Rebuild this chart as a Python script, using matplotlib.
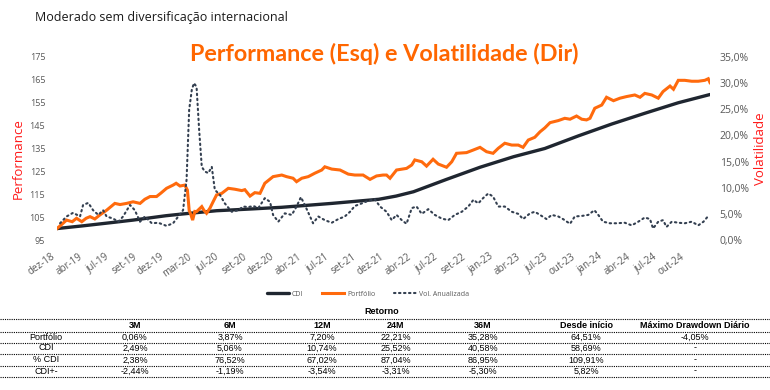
import matplotlib
matplotlib.use("Agg")
import matplotlib.pyplot as plt
from matplotlib.lines import Line2D

# ---- dados (eixo x em dias úteis desde dez-18) ----
dias_port = [0, 12, 22, 35, 45, 57, 67, 76, 87, 99, 114, 133, 145, 160, 175, 191, 202, 214, 229, 239,
             252, 267, 274, 283, 294, 300, 304, 308, 312, 317, 321, 333, 338, 344, 352, 359, 367, 379, 394, 409,
             425, 432, 444, 455, 467, 478, 497, 517, 528, 543, 551, 563, 578, 593, 609, 616, 632, 651, 670, 685,
             704, 720, 735, 750, 758, 766, 781, 804, 816, 823, 839, 850, 865, 877, 896, 908, 919, 942, 957, 973,
             988, 1003, 1015, 1030, 1046, 1061, 1072, 1084, 1099, 1111, 1122, 1134, 1153, 1168, 1180, 1195, 1207, 1218, 1226, 1237,
             1253, 1264, 1280, 1295, 1310, 1329, 1341, 1352, 1368, 1383, 1394, 1410, 1418, 1429, 1444, 1460, 1475, 1490, 1498, 1502]
portfolio = [100.0, 102.0, 103.7, 103.0, 104.5, 103.0, 104.5, 105.2, 104.2, 106.0, 108.0, 111.0, 110.5, 111.0, 111.7, 111.0, 112.8, 114.0, 114.0, 115.5,
             117.6, 119.0, 119.8, 118.6, 119.0, 116.8, 108.0, 106.0, 103.7, 107.5, 107.4, 109.6, 108.0, 106.7, 109.0, 111.7, 114.7, 115.4, 117.6, 117.2,
             116.6, 117.0, 114.2, 115.7, 115.4, 119.8, 122.7, 123.4, 122.7, 122.0, 120.5, 122.0, 122.7, 124.2, 125.6, 127.0, 126.0, 125.6, 123.8, 123.4,
             123.4, 121.5, 123.0, 123.4, 123.4, 122.0, 125.6, 126.3, 127.8, 130.0, 129.2, 127.3, 130.3, 128.2, 126.8, 129.2, 132.9, 133.2, 134.3, 135.5,
             133.6, 132.9, 135.1, 137.3, 136.5, 136.5, 135.5, 138.7, 139.9, 142.3, 144.0, 146.3, 147.2, 148.2, 147.8, 149.2, 147.8, 147.5, 148.2, 152.6,
             154.0, 157.4, 155.9, 157.0, 157.7, 158.4, 157.4, 159.1, 158.4, 157.0, 159.9, 162.3, 160.9, 164.8, 164.8, 164.4, 164.4, 164.8, 165.5, 163.8]

dias_cdi = [0, 60, 125, 175, 250, 290, 367, 450, 517, 632, 740, 780, 820, 896, 973, 1050, 1122, 1199, 1276, 1352, 1429, 1502]
cdi = [100.0, 101.2, 102.6, 103.7, 105.6, 106.4, 107.8, 108.6, 109.3, 111.0, 112.8, 114.2, 116.1, 121.5, 126.8, 131.4, 135.0, 140.5, 145.7, 150.4, 155.0, 158.6]

dias_vol = [7, 22, 37, 53, 60, 72, 83, 95, 106, 114, 129, 141, 152, 168, 179, 191, 202, 218, 233, 252,
            267, 279, 290, 298, 304, 310, 315, 321, 327, 333, 340, 348, 356, 363, 375, 386, 402, 417, 428, 440,
            452, 463, 478, 490, 497, 509, 524, 540, 551, 561, 570, 582, 589, 601, 616, 632, 647, 662, 674, 685,
            701, 716, 731, 743, 758, 770, 781, 793, 804, 816, 827, 839, 854, 869, 885, 900, 915, 931, 946, 958,
            969, 980, 992, 1003, 1015, 1030, 1046, 1061, 1072, 1088, 1099, 1111, 1126, 1138, 1153, 1164, 1180, 1191, 1207, 1222,
            1236, 1245, 1256, 1272, 1287, 1306, 1322, 1337, 1352, 1364, 1371, 1383, 1394, 1402, 1414, 1429, 1444, 1460, 1475, 1487, 1498]
vol = [3.2, 4.5, 5.2, 4.5, 6.7, 7.1, 5.7, 4.8, 5.7, 4.5, 4.1, 3.5, 4.5, 6.7, 5.7, 3.5, 4.5, 3.2, 3.3, 2.7,
       3.2, 4.5, 5.7, 11.5, 24.9, 28.7, 30.0, 29.3, 21.0, 14.0, 13.1, 12.8, 14.0, 9.6, 8.6, 7.0, 5.4, 5.7, 6.4, 6.3,
       6.5, 6.1, 8.0, 7.3, 4.8, 3.5, 5.1, 4.8, 6.4, 8.2, 6.7, 4.5, 3.2, 4.5, 3.8, 3.3, 4.0, 4.5, 5.4, 6.5,
       7.0, 7.5, 7.8, 6.4, 5.4, 3.8, 4.8, 3.8, 3.1, 6.1, 6.4, 5.0, 5.9, 4.8, 4.1, 3.8, 4.8, 5.4, 6.4, 7.7,
       7.0, 8.0, 8.9, 8.3, 6.4, 6.4, 5.4, 5.0, 4.0, 5.1, 5.4, 4.8, 4.0, 4.8, 4.5, 4.0, 3.1, 4.5, 4.6, 4.8,
       5.7, 4.8, 3.5, 3.2, 3.2, 3.3, 2.8, 3.5, 4.3, 4.0, 2.2, 3.5, 3.8, 2.5, 3.5, 3.3, 3.2, 3.5, 2.8, 3.5, 4.6]

rotulos_x = ["dez-18", "abr-19", "jul-19", "set-19", "dez-19", "mar-20", "jul-20", "set-20", "dez-20", "abr-21",
             "jul-21", "set-21", "dez-21", "abr-22", "jul-22", "set-22", "jan-23", "abr-23", "jul-23", "out-23",
             "jan-24", "abr-24", "jul-24", "out-24"]
passo_rotulo = 63  # dias úteis entre rótulos

# tabela de retornos
colunas = ["3M", "6M", "12M", "24M", "36M", "Desde início", "Máximo Drawdown Diário"]
linhas = ["Portfólio", "CDI", "% CDI", "CDI+-"]
ret_portfolio = [0.06, 3.87, 7.20, 22.21, 35.28, 64.51, -4.05]
ret_cdi = [2.49, 5.06, 10.74, 25.52, 40.58, 58.69, None]
ret_pct_cdi = [2.38, 76.52, 67.02, 87.04, 86.95, 109.91, None]
ret_cdi_mais = [-2.44, -1.19, -3.54, -3.31, -5.30, 5.82, None]

LARANJA = "#FF6A0D"
ESCURO = "#1F2630"
PONTOS = "#333F50"
CINZA = "#595959"
VERMELHO = "#FF1A1A"

W, H = 770, 390


def fx(px):
    return px / W


def fy(py):
    return 1 - py / H


def fmt_pct(v):
    if v is None:
        return "-"
    return f"{v:.2f}%".replace(".", ",")


fig = plt.figure(figsize=(7.7, 3.9), dpi=100)

ax = fig.add_axes([fx(57), fy(240), (710 - 57) / W, (240 - 57) / H])
ax2 = ax.twinx()

l_cdi, = ax.plot(dias_cdi, cdi, color=ESCURO, lw=2.4, label="CDI", solid_capstyle="round")
l_port, = ax.plot(dias_port, portfolio, color=LARANJA, lw=2.2, label="Portfólio", solid_joinstyle="miter")
l_vol, = ax2.plot(dias_vol, vol, color=PONTOS, lw=1.5, linestyle=(0, (0.7, 1.7)),
                  dash_capstyle="round", label="Vol. Anualizada")

ax.set_xlim(0, 1502)
ax.set_ylim(95, 175)
ax.set_yticks(range(95, 176, 10))
ax2.set_ylim(0, 35)
ax2.set_yticks(range(0, 36, 5))
ax2.set_yticklabels([f"{v:.1f}%".replace(".", ",") for v in range(0, 36, 5)])

ax.set_xticks([i * passo_rotulo for i in range(len(rotulos_x))])
ax.set_xticklabels(rotulos_x, rotation=35, ha="right", va="top")

for a in (ax, ax2):
    for s in a.spines.values():
        s.set_visible(False)
    a.tick_params(length=0, colors=CINZA, labelsize=6.5)
    for t in a.get_xticklabels() + a.get_yticklabels():
        t.set_family("Open Sans")
ax.tick_params(axis="y", pad=8.5)
ax.tick_params(axis="x", pad=8, labelsize=7)
ax2.tick_params(axis="y", pad=7, labelsize=7.5)

# textos
fig.text(fx(35), fy(18), "Moderado sem diversificação internacional", fontsize=9,
         color="#1A1A1A", family="Open Sans", va="center", ha="left")
fig.text(fx(384), fy(54), "Performance (Esq) e Volatilidade (Dir)", fontsize=16.8,
         color="#FF6600", weight="bold", family=["Liberation Sans Narrow", "Lato"], va="center", ha="center")
fig.text(fx(18), fy(159), "Performance", rotation=90, fontsize=9.5, color=VERMELHO,
         family="Open Sans", va="center", ha="center")
fig.text(fx(760), fy(149), "Volatilidade", rotation=90, fontsize=9.5, color=VERMELHO,
         family="Open Sans", va="center", ha="center")

fig.legend(handles=[l_cdi, l_port, l_vol], loc="center", bbox_to_anchor=(fx(368), fy(294)),
           ncol=3, frameon=False, prop={"family": "Open Sans", "size": 5},
           labelcolor=CINZA, handlelength=3.2, handletextpad=0.4, columnspacing=2.7)

# tabela
x_rot = 46
x_cols = [135, 230, 322, 396, 483, 586, 695]
y_linhas_tab = [319, 332, 343, 354, 366, 377]
y_textos = [337, 348, 360, 371]
fonte_tab = ["Liberation Sans", "DejaVu Sans"]

fig.text(fx(382), fy(311), "Retorno", fontsize=6.5, weight="bold", family=fonte_tab,
         ha="center", va="center", color="black")
for xc, c in zip(x_cols, colunas):
    fig.text(fx(xc), fy(325), c, fontsize=6.5, weight="bold", family=fonte_tab,
             ha="center", va="center", color="black")

valores = [ret_portfolio, ret_cdi, ret_pct_cdi, ret_cdi_mais]
for yt, nome, vals in zip(y_textos, linhas, valores):
    fig.text(fx(x_rot), fy(yt), nome, fontsize=6.5, family=fonte_tab, ha="center", va="center")
    for xc, v in zip(x_cols, vals):
        fig.text(fx(xc), fy(yt), fmt_pct(v), fontsize=6.5, family=fonte_tab, ha="center", va="center")

for yl in y_linhas_tab:
    fig.add_artist(Line2D([0, 1], [fy(yl), fy(yl)], transform=fig.transFigure,
                          color="black", lw=0.8, linestyle=(0, (1, 1))))

fig.savefig("out.png", dpi=100)
